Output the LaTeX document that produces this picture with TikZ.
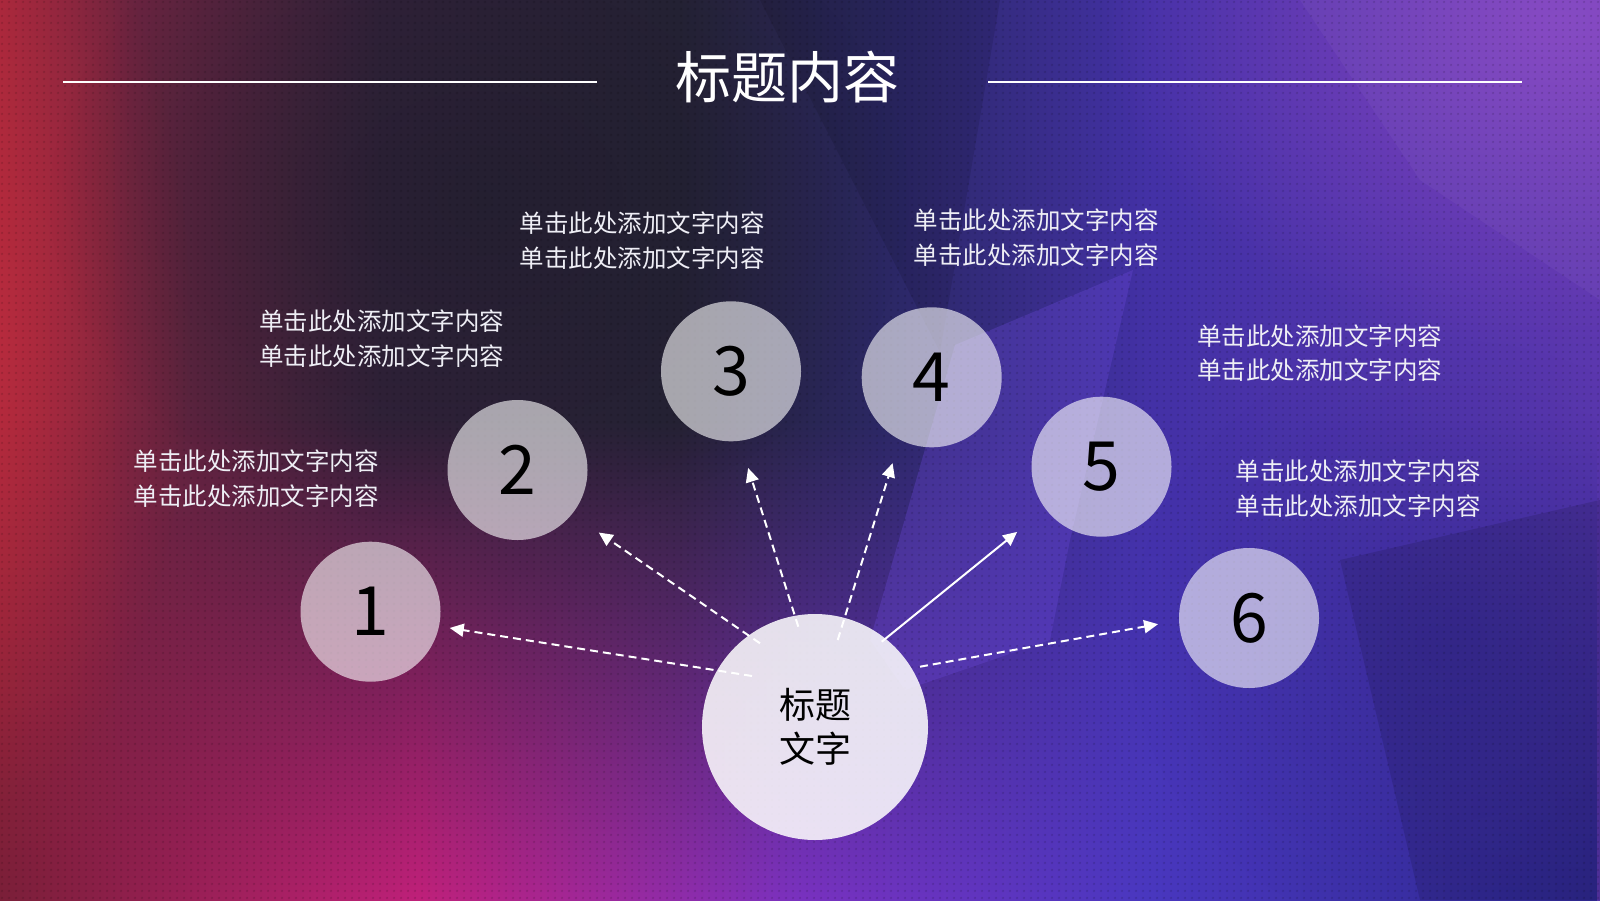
\documentclass[tikz,border=0pt]{standalone}
\usepackage{fontspec}
\setmainfont{Noto Sans CJK SC}
\usetikzlibrary{arrows.meta,fadings,patterns.meta}

\definecolor{L0}{HTML}{A6283C}
\definecolor{L1}{HTML}{6A2440}
\definecolor{L2}{HTML}{33223A}
\definecolor{L3}{HTML}{252235}
\definecolor{L4}{HTML}{2C2868}
\definecolor{L5}{HTML}{4331A6}
\definecolor{L6}{HTML}{5B37AE}
\definecolor{B0}{HTML}{7A1F38}
\definecolor{B1}{HTML}{C0207A}
\definecolor{B2}{HTML}{7A32C0}
\definecolor{B3}{HTML}{4A38C0}
\definecolor{B4}{HTML}{2E2890}
\definecolor{txtcol}{HTML}{EEEEF5}
\definecolor{facetV}{HTML}{6A48D8}
\definecolor{topR}{HTML}{9048C8}
\definecolor{redL}{HTML}{C22C3E}
\definecolor{navyD}{HTML}{1E1D2C}
\definecolor{blueR}{HTML}{302890}

\pgfdeclarehorizontalshading{baseH}{100bp}{color(0bp)=(L0); color(25bp)=(L0);
  color(29.06bp)=(L1); color(36.875bp)=(L2); color(46.25bp)=(L3);
  color(53.125bp)=(L4); color(60.94bp)=(L5); color(75bp)=(L6); color(100bp)=(L6)}
\pgfdeclarehorizontalshading{bandB}{100bp}{color(0bp)=(B0); color(25bp)=(B0);
  color(38.125bp)=(B1); color(50bp)=(B2); color(60.94bp)=(B3);
  color(75bp)=(B4); color(100bp)=(B4)}

\tikzfading[name=fadeup, top color=transparent!100, bottom color=transparent!0]
\tikzfading[name=blob, inner color=transparent!0, outer color=transparent!100]

\tikzdeclarepattern{name=dotgrid, type=uncolored,
  bounding box={(0pt,0pt) and (7pt,7pt)}, tile size={(7pt,7pt)},
  code={\fill (3.5pt,3.5pt) circle [radius=1.3pt];}}

\tikzset{
  bubble/.style={circle, minimum size=140pt, inner sep=0pt, fill=white,
    fill opacity=0.6, text opacity=1, text=black,
    font=\fontsize{68}{68}\selectfont},
  hub/.style={circle, minimum size=226pt, inner sep=0pt, fill=white,
    fill opacity=0.86, text opacity=1, text=black, align=center,
    font=\fontsize{36}{44}\selectfont},
  desc/.style={anchor=west, align=left, inner sep=0pt, text=txtcol,
    font=\fontsize{24.5}{34.7}\selectfont},
  arr/.style={draw=white, line width=2pt, -{Triangle[length=14pt,width=13pt]}},
  dsh/.style={dash pattern=on 8pt off 5pt},
  titleline/.style={draw=white, line width=2pt}
}

\begin{document}
\begin{tikzpicture}[x=1pt,y=-1pt]
\useasboundingbox (0,0) rectangle (1600,900);

% ---------- background ----------
\shade[shading=baseH] (0,0) rectangle (1600,900);
\shade[shading=bandB, path fading=fadeup] (0,420) rectangle (1600,900);

\fill[topR, path fading=blob, opacity=0.75] (1560,20) ellipse [x radius=460pt, y radius=330pt];
\fill[redL, path fading=blob, opacity=0.6] (0,330) ellipse [x radius=190pt, y radius=460pt];
\fill[navyD, path fading=blob, opacity=0.6] (480,200) ellipse [x radius=430pt, y radius=330pt];
\fill[blueR, path fading=blob, opacity=0.5] (1450,640) ellipse [x radius=320pt, y radius=300pt];

% facets
\fill[facetV, opacity=0.32] (955,345) -- (1133,270) -- (1070,540) -- (1050,640) -- (905,690) -- (870,640) -- cycle;
\fill[white, opacity=0.04] (1300,0) -- (1600,0) -- (1600,300) -- (1420,180) -- cycle;
\fill[black, opacity=0.12] (1340,560) -- (1600,500) -- (1600,900) -- (1420,900) -- cycle;
\fill[black, opacity=0.10] (940,352) -- (1000,0) -- (760,0) -- cycle;

\fill[pattern={dotgrid}, pattern color=black, fill opacity=0.14] (0,0) rectangle (1600,900);

% ---------- title ----------
\node[inner sep=0pt, text=white, font=\fontsize{56}{60}\selectfont] (title) at (787,77) {标题内容};
\coordinate (la) at (63,81.6);
\coordinate (lb) at (597,81.6);
\coordinate (ra) at (988,81.6);
\coordinate (rb) at (1522,81.6);
\draw[titleline] (la) -- (lb);
\draw[titleline] (ra) -- (rb);

% ---------- circles ----------
\node[bubble] (n1) at (370.5,611.7) {1};
\node[bubble] (n2) at (517.5,470) {2};
\node[bubble] (n3) at (731,371.3) {3};
\node[bubble] (n4) at (931.7,377.3) {4};
\node[bubble] (n5) at (1101.5,466.7) {5};
\node[bubble] (n6) at (1249,618) {6};
\node[hub] (c) at (815,727) {标题\\文字};

% ---------- descriptions ----------
\node[desc] (d1) at (133.7,478.5) {单击此处添加文字内容\\单击此处添加文字内容};
\node[desc] (d2) at (259,338.8) {单击此处添加文字内容\\单击此处添加文字内容};
\node[desc] (d3) at (519.4,240.9) {单击此处添加文字内容\\单击此处添加文字内容};
\node[desc] (d4) at (913.3,237.8) {单击此处添加文字内容\\单击此处添加文字内容};
\node[desc] (d5) at (1197,353) {单击此处添加文字内容\\单击此处添加文字内容};
\node[desc] (d6) at (1235.7,488.8) {单击此处添加文字内容\\单击此处添加文字内容};

% ---------- arrows ----------
\coordinate (s1) at (752,676);
\coordinate (s2) at (760,643.3);
\coordinate (s3) at (798.3,626.7);
\coordinate (s4) at (837.7,640);
\coordinate (s5) at (881.7,641.7);
\coordinate (s6) at (920,666.7);
\draw[arr, dsh, shorten >=10.7pt] (s1) -- (n1.348);
\draw[arr, dsh, shorten >=32.4pt] (s2) -- (n2.321);
\draw[arr, dsh, shorten >=28.3pt] (s3) -- (n3.277);
\draw[arr, dsh, shorten >=24.4pt] (s4) -- (n4.243);
\draw[arr, shorten >=36.4pt] (s5) -- (n5.217);
\draw[arr, dsh, shorten >=21.1pt] (s6) -- (n6.182);
\end{tikzpicture}
\end{document}
